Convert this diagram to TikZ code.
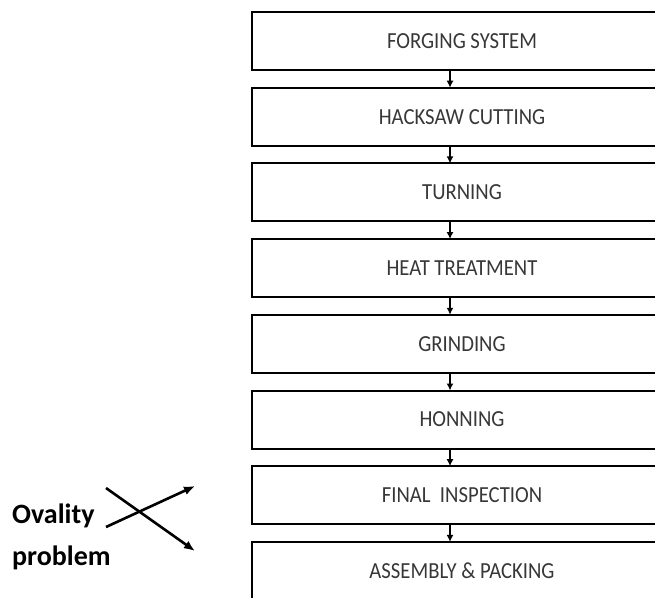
\documentclass[tikz,border=0pt]{standalone}
\usepackage{fontspec}
\setmainfont{Carlito}
\newfontfamily\stagefont{Carlito}[FakeStretch=0.9]
\usetikzlibrary{positioning,arrows.meta}
\definecolor{labelgray}{RGB}{55,55,55}

\begin{document}
\begin{tikzpicture}[x=1pt, y=-1pt,
    stage/.style = {shape=rectangle, draw, line width=2pt,
      minimum width=420pt, minimum height=58pt,
      inner sep=0pt, outer sep=0pt, text=labelgray,
      font=\stagefont\fontsize{23}{27}\selectfont},
    flow/.style = {line width=1.8pt, -{Latex[length=7pt,width=7pt]}},
    cross/.style = {line width=2.6pt, -{Latex[length=11pt,width=9pt]}}]
  \useasboundingbox (0,0) rectangle (655,597);
  \clip (0,0) rectangle (655,597);

  % process chain
  \node[stage] (forging) at (462,41) {FORGING SYSTEM};
  \node[stage, below=17.7pt of forging] (hacksaw) {HACKSAW CUTTING};
  \node[stage, below=17.7pt of hacksaw] (turning) {TURNING};
  \node[stage, below=17.7pt of turning] (heat) {HEAT TREATMENT};
  \node[stage, below=17.7pt of heat] (grinding) {GRINDING};
  \node[stage, below=17.7pt of grinding] (honning) {HONNING};
  \node[stage, below=17.7pt of honning] (final) {FINAL\ \ INSPECTION};
  \node[stage, below=17.7pt of final] (assembly) {ASSEMBLY \& PACKING};

  \draw[flow] ([xshift=-12pt]forging.south) -- ([xshift=-12pt]hacksaw.north);
  \draw[flow] ([xshift=-12pt]hacksaw.south) -- ([xshift=-12pt]turning.north);
  \draw[flow] ([xshift=-12pt]turning.south) -- ([xshift=-12pt]heat.north);
  \draw[flow] ([xshift=-12pt]heat.south) -- ([xshift=-12pt]grinding.north);
  \draw[flow] ([xshift=-12pt]grinding.south) -- ([xshift=-12pt]honning.north);
  \draw[flow] ([xshift=-12pt]honning.south) -- ([xshift=-12pt]final.north);
  \draw[flow] ([xshift=-12pt]final.south) -- ([xshift=-12pt]assembly.north);

  % side note
  \node[font=\bfseries\fontsize{28}{42}\selectfont, align=left,
    anchor=base west, inner sep=0pt] (ovality) at (12,565) {Ovality\\problem};
  \coordinate (upstart) at (106,527);
  \coordinate (upend) at (195,486);
  \coordinate (downstart) at (106,488);
  \coordinate (downend) at (195,551);
  \draw[cross] (upstart) -- (upend);
  \draw[cross] (downstart) -- (downend);
\end{tikzpicture}
\end{document}
